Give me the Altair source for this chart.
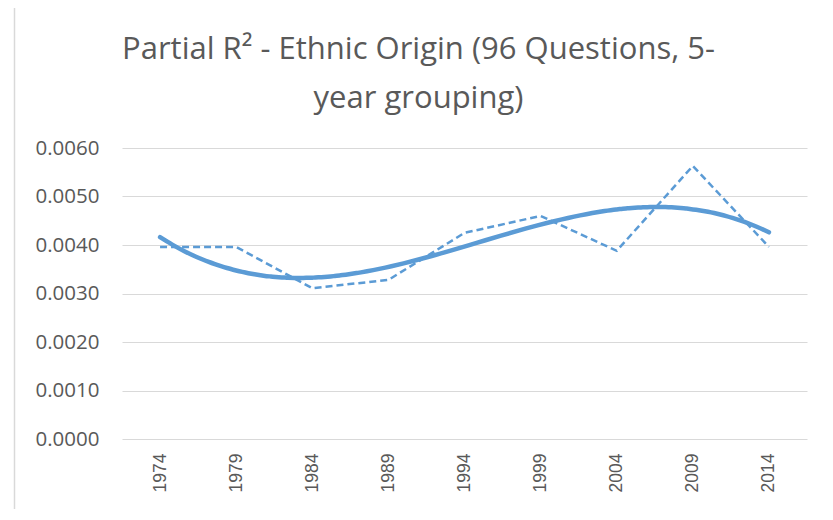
import altair as alt
import pandas as pd

years = [1974, 1979, 1984, 1989, 1994, 1999, 2004, 2009, 2014]
partial_r2 = [0.00396, 0.00396, 0.00311, 0.00328, 0.00425, 0.00460, 0.00388, 0.00563, 0.00396]
y_ticks = [0.0, 0.001, 0.002, 0.003, 0.004, 0.005, 0.006]

df = pd.DataFrame({"year": years, "r2": partial_r2})

BLUE = "#5b9bd5"
GRID = "#d9d9d9"
TXT = "#595959"

x_enc = alt.X("year:Q",
              scale=alt.Scale(domain=[1971.5, 2016.5], nice=False, zero=False),
              axis=alt.Axis(values=years, labelAngle=-90, labelAlign="right", labelBaseline="middle",
                            format="d", grid=False, ticks=False, domain=False,
                            labelPadding=14, labelFontSize=17.5, labelColor=TXT,
                            labelFont="Liberation Sans", title=None))
y_enc = alt.Y("r2:Q",
              scale=alt.Scale(domain=[0, 0.006], nice=False),
              axis=alt.Axis(values=y_ticks, format=".4f", grid=True, gridColor=GRID, gridWidth=1,
                            ticks=False, domain=False, labelPadding=23, labelFontSize=20.5,
                            labelColor=TXT, labelFont="Open Sans", title=None))

base = alt.Chart(df)

dashed = base.mark_line(color=BLUE, strokeWidth=2.5, strokeDash=[7, 4]).encode(x=x_enc, y=y_enc)

trend = base.transform_regression("year", "r2", method="poly", order=3,
                                  extent=[1974, 2014]).mark_line(
    color=BLUE, strokeWidth=4.5, strokeCap="round", interpolate="monotone").encode(x=x_enc, y=y_enc)

border = alt.Chart(pd.DataFrame({"a": [0]})).mark_rule(color=GRID, strokeWidth=1.5, clip=False)
left_b = border.encode(x=alt.value(-107.5), y=alt.value(-144.5), y2=alt.value(400))
top_b = border.encode(x=alt.value(-107.5), x2=alt.value(750), y=alt.value(-144.5))

chart = alt.layer(dashed, trend, left_b, top_b).properties(
    width=685, height=291,
    autosize=alt.AutoSizeParams(type="none"),
    padding={"left": 114, "top": 140, "right": 10, "bottom": 70},
    title=alt.TitleParams(
        text=["Partial R² - Ethnic Origin (96 Questions, 5-", "year grouping)"],
        anchor="middle", frame="group", dx=-46, offset=-112, fontSize=31, lineHeight=49,
        font="Open Sans", fontWeight="normal", color=TXT),
).configure_view(stroke=None)

chart.save("out.html", embed_options={"renderer": "svg", "actions": False})
